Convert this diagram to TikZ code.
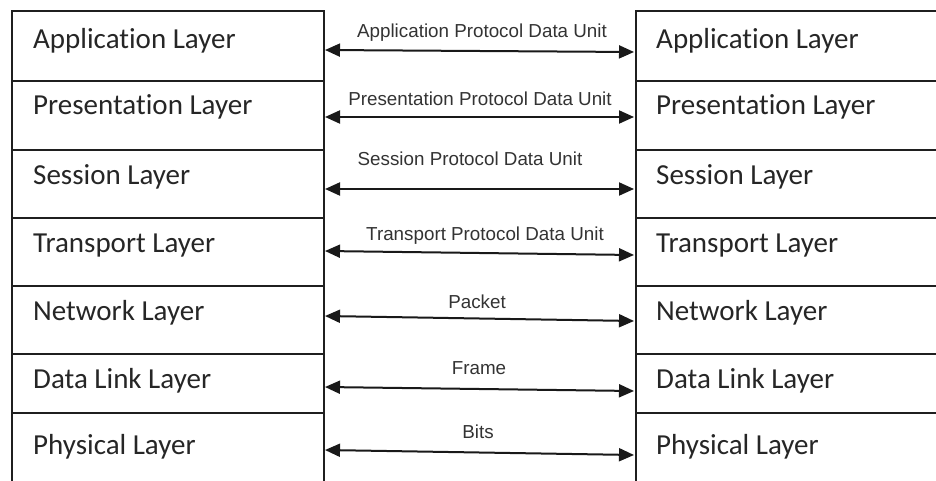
\documentclass[tikz,border=0pt]{standalone}
\usepackage{fontspec}
\setmainfont[Ligatures=NoCommon]{Carlito}
\newfontfamily\pdufont{Liberation Sans}
\usetikzlibrary{arrows.meta}
\begin{document}
\begin{tikzpicture}[x=1pt,y=-1pt,
  frame/.style={line width=1.8pt, draw=black!88},
  layer/.style={anchor=base west, inner sep=0pt, font=\fontsize{29}{34}\selectfont, text=black!85},
  pdu/.style={anchor=base, inner sep=0pt, font=\pdufont\fontsize{18.8}{22}\selectfont, text=black!80},
  tip/.tip={Triangle[length=15pt,width=13pt]},
  link/.style={line width=2pt, draw=black!90, tip-tip}]
\useasboundingbox[fill=white] (0,0) rectangle (936,481);

% left stack (open at the bottom)
\draw[frame] (12,481) -- (12,11) -- (324,11) -- (324,481);
\foreach \y in {81,150,218,286,354,413} \draw[frame] (12,\y) -- (324,\y);

% right stack (open at the right and bottom)
\draw[frame] (936,11) -- (636,11) -- (636,481);
\foreach \y in {81,150,218,286,354,413} \draw[frame] (636,\y) -- (936,\y);

% layer names
\foreach \n/\b/\t in {1/49/Application Layer, 2/115/Presentation Layer,
    3/184/Session Layer, 4/252/Transport Layer, 5/320/Network Layer,
    6/388/Data Link Layer, 7/454/Physical Layer} {
  \node[layer] (l\n) at (33,\b) {\t};
  \node[layer] (r\n) at (656,\b) {\t};
}

% arrow end points on the stack edges
\coordinate (a1) at (325,50);  \coordinate (b1) at (634,52);
\coordinate (a2) at (325,117); \coordinate (b2) at (634,117);
\coordinate (a3) at (325,189); \coordinate (b3) at (634,189);
\coordinate (a4) at (325,251); \coordinate (b4) at (634,255);
\coordinate (a5) at (325,316); \coordinate (b5) at (634,321);
\coordinate (a6) at (325,387); \coordinate (b6) at (634,391);
\coordinate (a7) at (325,450); \coordinate (b7) at (634,455);
\foreach \n in {1,...,7} \draw[link] (a\n) -- (b\n);

% protocol data unit names
\node[pdu] (p1) at (482,38)  {Application Protocol Data Unit};
\node[pdu] (p2) at (480,106) {Presentation Protocol Data Unit};
\node[pdu] (p3) at (470,166) {Session Protocol Data Unit};
\node[pdu] (p4) at (485,240) {Transport Protocol Data Unit};
\node[pdu] (p5) at (477,308) {Packet};
\node[pdu] (p6) at (479,374) {Frame};
\node[pdu] (p7) at (478,438) {Bits};
\end{tikzpicture}
\end{document}
